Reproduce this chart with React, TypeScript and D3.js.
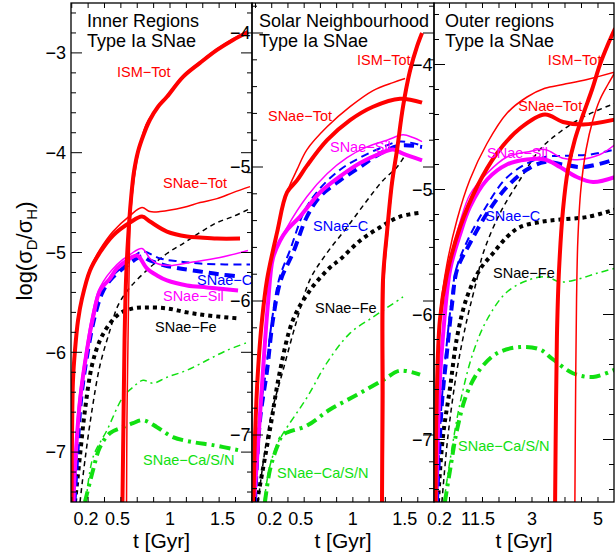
import React, { useRef, useEffect } from 'react';
import * as d3 from 'd3';

type Pt = [number, number];

// ---- Inner regions: [t (Gyr), log(sigmaD/sigmaH)] ----
const innerIsmThick: Pt[] = [[0.547,-7.5],[0.557,-6.68],[0.567,-5.88],[0.581,-5.28],[0.6,-4.87],[0.628,-4.47],[0.657,-4.19],[0.695,-3.99],[0.752,-3.81],[0.809,-3.67],[0.886,-3.54],[0.971,-3.44],[1.124,-3.24],[1.286,-3.1],[1.448,-2.97],[1.6,-2.87],[1.743,-2.79]];
const innerIsmThin: Pt[] = [[0.586,-7.5],[0.59,-6.68],[0.6,-5.88],[0.609,-5.28],[0.628,-4.57],[0.695,-4.02],[0.771,-3.72],[0.828,-3.62],[0.971,-3.43],[1.124,-3.23],[1.286,-3.09],[1.448,-2.96],[1.6,-2.86],[1.743,-2.78]];
const innerTotThick: Pt[] = [[0.062,-7.5],[0.067,-6.81],[0.076,-6.28],[0.095,-5.98],[0.124,-5.68],[0.162,-5.46],[0.238,-5.18],[0.333,-5.0],[0.457,-4.83],[0.619,-4.7],[0.733,-4.64],[0.809,-4.69],[0.971,-4.79],[1.162,-4.84],[1.286,-4.85],[1.448,-4.86],[1.667,-4.86]];
const innerTotThin: Pt[] = [[0.062,-7.5],[0.067,-6.81],[0.076,-6.28],[0.095,-5.98],[0.124,-5.68],[0.162,-5.45],[0.238,-5.16],[0.333,-4.97],[0.457,-4.79],[0.619,-4.63],[0.733,-4.55],[0.809,-4.59],[0.905,-4.59],[1.124,-4.55],[1.286,-4.5],[1.448,-4.46],[1.6,-4.4],[1.762,-4.34]];
const innerSilThick: Pt[] = [[0.081,-7.5],[0.095,-7.15],[0.143,-6.48],[0.209,-5.98],[0.267,-5.65],[0.333,-5.38],[0.428,-5.26],[0.495,-5.16],[0.59,-5.08],[0.686,-5.03],[0.781,-5.16],[0.876,-5.23],[0.971,-5.28],[1.162,-5.33],[1.352,-5.35],[1.648,-5.38]];
const innerSilThin: Pt[] = [[0.076,-7.5],[0.09,-7.15],[0.133,-6.48],[0.2,-5.98],[0.257,-5.63],[0.333,-5.35],[0.495,-5.12],[0.619,-5.02],[0.733,-4.96],[0.809,-5.06],[0.876,-5.11],[1.0,-5.13],[1.19,-5.1],[1.476,-5.05],[1.743,-4.98]];
const innerCThick: Pt[] = [[0.09,-7.5],[0.114,-7.08],[0.152,-6.48],[0.219,-5.98],[0.286,-5.63],[0.352,-5.41],[0.428,-5.28],[0.59,-5.13],[0.733,-5.04],[0.809,-5.08],[0.952,-5.13],[1.095,-5.16],[1.286,-5.19],[1.476,-5.22],[1.667,-5.24]];
const innerCThin: Pt[] = [[0.086,-7.5],[0.109,-7.08],[0.148,-6.48],[0.214,-5.98],[0.276,-5.63],[0.343,-5.4],[0.428,-5.26],[0.59,-5.11],[0.733,-4.99],[0.905,-5.06],[1.095,-5.09],[1.286,-5.11],[1.524,-5.12],[1.762,-5.12]];
const innerFeThick: Pt[] = [[0.095,-7.5],[0.143,-7.03],[0.19,-6.58],[0.257,-6.13],[0.333,-5.88],[0.428,-5.71],[0.524,-5.61],[0.647,-5.56],[0.781,-5.55],[0.971,-5.56],[1.162,-5.6],[1.352,-5.63],[1.648,-5.66]];
const innerFeThin: Pt[] = [[0.143,-7.5],[0.19,-7.08],[0.257,-6.58],[0.333,-6.13],[0.428,-5.78],[0.505,-5.53],[0.619,-5.35],[0.809,-5.15],[0.971,-5.01],[1.124,-4.91],[1.286,-4.8],[1.448,-4.7],[1.6,-4.64],[1.743,-4.57]];
const innerCaThick: Pt[] = [[0.19,-7.5],[0.267,-7.18],[0.333,-6.95],[0.428,-6.81],[0.552,-6.75],[0.647,-6.71],[0.743,-6.68],[0.876,-6.75],[1.028,-6.85],[1.219,-6.9],[1.409,-6.93],[1.648,-6.98]];
const innerCaThin: Pt[] = [[0.2,-7.5],[0.267,-7.05],[0.4,-6.78],[0.552,-6.45],[0.647,-6.35],[0.743,-6.28],[0.838,-6.31],[0.971,-6.25],[1.162,-6.18],[1.352,-6.08],[1.543,-5.98],[1.743,-5.9]];

// ---- Solar neighbourhood ----
const solarIsmThick: Pt[] = [[1.28,-7.5],[1.285,-6.74],[1.29,-5.84],[1.328,-5.49],[1.376,-5.12],[1.425,-4.87],[1.482,-4.55],[1.55,-4.28],[1.617,-4.1],[1.665,-4.0]];
const solarIsmThin: Pt[] = [[1.29,-7.5],[1.295,-6.74],[1.3,-5.84],[1.335,-5.49],[1.38,-5.13],[1.428,-4.88],[1.485,-4.56],[1.552,-4.29],[1.618,-4.11],[1.665,-4.01]];
const solarTotThick: Pt[] = [[0.045,-7.5],[0.059,-7.02],[0.088,-6.52],[0.127,-6.14],[0.175,-5.84],[0.271,-5.49],[0.367,-5.19],[0.463,-5.1],[0.559,-4.99],[0.752,-4.8],[0.973,-4.65],[1.194,-4.55],[1.453,-4.49],[1.665,-4.52]];
const solarTotThin: Pt[] = [[0.045,-7.5],[0.059,-7.02],[0.088,-6.52],[0.127,-6.14],[0.175,-5.84],[0.271,-5.49],[0.367,-5.19],[0.463,-5.02],[0.559,-4.87],[0.752,-4.7],[0.973,-4.55],[1.194,-4.43],[1.386,-4.37],[1.502,-4.34]];
const solarSilThick: Pt[] = [[0.05,-7.5],[0.078,-7.19],[0.136,-6.52],[0.184,-6.02],[0.232,-5.68],[0.3,-5.55],[0.367,-5.47],[0.492,-5.37],[0.684,-5.19],[0.877,-5.07],[1.069,-4.97],[1.261,-4.9],[1.386,-4.87],[1.482,-4.9],[1.665,-4.95]];
const solarSilThin: Pt[] = [[0.05,-7.5],[0.078,-7.19],[0.136,-6.52],[0.184,-5.99],[0.232,-5.66],[0.367,-5.45],[0.559,-5.22],[0.752,-5.05],[0.944,-4.93],[1.136,-4.85],[1.328,-4.8],[1.482,-4.76],[1.578,-4.78],[1.665,-4.81]];
const solarCThick: Pt[] = [[0.059,-7.5],[0.107,-6.89],[0.175,-6.52],[0.232,-6.14],[0.309,-5.84],[0.425,-5.64],[0.559,-5.37],[0.684,-5.22],[0.877,-5.1],[1.069,-5.0],[1.261,-4.9],[1.453,-4.84],[1.665,-4.85]];
const solarCThin: Pt[] = [[0.059,-7.5],[0.098,-6.89],[0.165,-6.52],[0.223,-6.14],[0.29,-5.84],[0.396,-5.62],[0.54,-5.32],[0.684,-5.16],[0.877,-5.02],[1.069,-4.93],[1.261,-4.86],[1.453,-4.81],[1.665,-4.84]];
const solarFeThick: Pt[] = [[0.078,-7.5],[0.203,-6.96],[0.3,-6.52],[0.425,-6.14],[0.588,-5.92],[0.78,-5.75],[0.877,-5.69],[1.069,-5.55],[1.261,-5.45],[1.453,-5.37],[1.665,-5.34]];
const solarFeThin: Pt[] = [[0.088,-7.5],[0.203,-6.89],[0.328,-6.52],[0.463,-6.14],[0.588,-5.84],[0.752,-5.64],[0.944,-5.45],[1.136,-5.25],[1.29,-5.1],[1.425,-5.0],[1.502,-4.91]];
const solarCaThick: Pt[] = [[0.155,-7.5],[0.203,-7.26],[0.271,-7.09],[0.328,-7.0],[0.559,-6.93],[0.78,-6.81],[1.04,-6.7],[1.29,-6.59],[1.453,-6.52],[1.646,-6.55]];
const solarCaThin: Pt[] = [[0.146,-7.5],[0.194,-7.26],[0.261,-7.09],[0.328,-6.99],[0.559,-6.72],[0.752,-6.46],[0.973,-6.24],[1.194,-6.12],[1.328,-6.05],[1.482,-5.97]];

// ---- Outer regions ----
const outerIsmThick: Pt[] = [[3.7,-7.5],[3.73,-6.68],[3.76,-6.12],[3.82,-5.64],[3.94,-5.16],[4.09,-4.84],[4.3,-4.6],[4.55,-4.4],[4.82,-4.2],[5.06,-4.0],[5.3,-3.84],[5.52,-3.71]];
const outerIsmThin: Pt[] = [[4.3,-7.5],[4.32,-6.68],[4.35,-5.88],[4.39,-5.4],[4.48,-5.0],[4.64,-4.68],[4.85,-4.44],[5.06,-4.28],[5.3,-4.16],[5.52,-4.06]];
const outerTotThick: Pt[] = [[0.08,-7.5],[0.11,-6.71],[0.21,-6.04],[0.42,-5.68],[0.82,-5.3],[1.33,-4.98],[1.94,-4.71],[2.64,-4.51],[3.39,-4.4],[3.94,-4.46],[4.55,-4.48],[5.52,-4.44]];
const outerTotThin: Pt[] = [[0.08,-7.5],[0.11,-6.68],[0.21,-6.0],[0.42,-5.6],[0.73,-5.24],[1.12,-4.92],[1.64,-4.63],[2.24,-4.39],[2.85,-4.26],[3.39,-4.19],[3.94,-4.16],[4.67,-4.12],[5.52,-4.06]];
const outerSilThick: Pt[] = [[0.09,-7.5],[0.21,-6.52],[0.3,-6.18],[0.52,-5.64],[0.82,-5.36],[1.12,-5.14],[1.64,-4.92],[2.24,-4.8],[2.85,-4.76],[3.39,-4.76],[3.85,-4.82],[4.36,-4.9],[4.85,-4.94],[5.52,-4.9]];
const outerSilThin: Pt[] = [[0.09,-7.5],[0.21,-6.48],[0.3,-6.12],[0.52,-5.58],[0.82,-5.26],[1.12,-5.04],[1.64,-4.87],[2.24,-4.74],[2.85,-4.7],[3.39,-4.68],[3.94,-4.75],[4.45,-4.76],[5.06,-4.72],[5.52,-4.64]];
const outerCThick: Pt[] = [[0.12,-7.5],[0.27,-6.71],[0.42,-6.31],[0.58,-5.91],[0.73,-5.64],[1.12,-5.43],[1.64,-5.19],[2.24,-4.98],[2.85,-4.84],[3.39,-4.78],[3.94,-4.8],[4.55,-4.82],[5.52,-4.76]];
const outerCThin: Pt[] = [[0.12,-7.5],[0.26,-6.71],[0.39,-6.31],[0.55,-5.91],[0.7,-5.64],[1.06,-5.4],[1.58,-5.15],[2.18,-4.92],[2.79,-4.8],[3.39,-4.74],[4.0,-4.73],[4.76,-4.72],[5.52,-4.68]];
const outerFeThick: Pt[] = [[0.15,-7.5],[0.3,-6.98],[0.52,-6.58],[0.73,-6.18],[1.03,-5.86],[1.42,-5.64],[1.82,-5.51],[2.24,-5.38],[2.64,-5.3],[3.24,-5.26],[3.85,-5.24],[4.67,-5.22],[5.52,-5.16]];
const outerFeThin: Pt[] = [[0.27,-7.5],[0.45,-6.98],[0.73,-6.44],[1.03,-6.04],[1.33,-5.72],[1.52,-5.51],[2.03,-5.19],[2.64,-4.92],[3.24,-4.68],[3.85,-4.54],[4.55,-4.42],[5.52,-4.31]];
const outerCaThick: Pt[] = [[0.36,-7.5],[0.52,-7.24],[0.73,-6.92],[1.03,-6.63],[1.42,-6.44],[1.94,-6.31],[2.64,-6.26],[3.24,-6.28],[3.64,-6.36],[4.24,-6.47],[4.85,-6.5],[5.52,-6.44]];
const outerCaThin: Pt[] = [[0.33,-7.5],[0.52,-7.16],[0.82,-6.71],[1.21,-6.31],[1.64,-6.04],[2.24,-5.82],[2.94,-5.72],[3.45,-5.7],[3.85,-5.74],[4.36,-5.72],[4.97,-5.67],[5.52,-5.63]];

// curve labels: [text, t, v, kind]
const innerLabels: [string, number, number, string][] = [
  ['ISM\u2212Tot', 0.495, -3.24, 'tot'], ['SNae\u2212Tot', 0.933, -4.35, 'tot'], ['SNae\u2212C', 1.257, -5.33, 'c'],
  ['SNae\u2212Sil', 0.933, -5.49, 'sil'], ['SNae\u2212Fe', 0.857, -5.8, 'fe'], ['SNae\u2212Ca/S/N', 0.743, -7.13, 'ca']];
const solarLabels: [string, number, number, string][] = [
  ['ISM\u2212Tot', 1.04, -4.24, 'tot'], ['SNae\u2212Tot', 0.184, -4.66, 'tot'], ['SNae\u2212Sil', 0.78, -4.89, 'sil'],
  ['SNae\u2212C', 0.617, -5.48, 'c'], ['SNae\u2212Fe', 0.636, -6.09, 'fe'], ['SNae\u2212Ca/S/N', 0.271, -7.32, 'ca']];
const outerLabels: [string, number, number, string][] = [
  ['ISM\u2212Tot', 3.48, -4.0, 'tot'], ['SNae\u2212Tot', 2.58, -4.37, 'tot'], ['SNae\u2212Sil', 1.64, -4.75, 'sil'],
  ['SNae\u2212C', 1.58, -5.25, 'c'], ['SNae\u2212Fe', 1.82, -5.71, 'fe'], ['SNae\u2212Ca/S/N', 0.76, -7.09, 'ca']];

const innerYTicks = [-7, -6, -5, -4, -3];
const solarYTicks = [-7, -6, -5, -4];
const outerYTicks = [-7, -6, -5, -4];
const innerXTicks = [0.2, 0.5, 1, 1.5];
const outerXTicks = [0.2, 1, 1.5, 3, 5];

const RED = '#ff0000', MAGENTA = '#ff00ff', BLUE = '#0000ff', BLACK = '#000000', GREEN = '#11e011';
const kindColor: Record<string, string> = { tot: RED, sil: MAGENTA, c: BLUE, fe: BLACK, ca: GREEN };

const styles: Record<string, { color: string, width: number, dash?: string }> = {
  caThick: { color: GREEN, width: 4, dash: '11,5,3,5' },
  caThin: { color: GREEN, width: 1.5, dash: '7,4,2,4' },
  feThick: { color: BLACK, width: 4, dash: '4,4' },
  feThin: { color: BLACK, width: 1.5, dash: '5,4' },
  cThick: { color: BLUE, width: 4, dash: '10,6' },
  cThin: { color: BLUE, width: 2, dash: '8,5' },
  silThick: { color: MAGENTA, width: 4 },
  silThin: { color: MAGENTA, width: 1.5 },
  totThick: { color: RED, width: 4 },
  totThin: { color: RED, width: 1.5 },
  ismThick: { color: RED, width: 4 },
  ismThin: { color: RED, width: 1.5 },
};

const FONT = "'Liberation Sans', Arial, Helvetica, sans-serif";
const W = 615, H = 558, TOP = 3, BOTTOM = 502;

export default function App() {
  const svg_ref = useRef<SVGSVGElement>(null);
  useEffect(() => draw(svg_ref.current), []);
  return (
    <svg ref={svg_ref} width={W} height={H} style={{ position: 'absolute', left: 0, top: 0, background: '#fff' }} />
  );
}

function draw(el: SVGSVGElement | null) {
  if (!el) return;
  const svg = d3.select(el);
  svg.selectAll('*').remove();
  svg.attr('font-family', FONT);

  const panels = [
    {
      id: 'inner', title: ['Inner Regions', 'Type Ia SNae'], titleX: 16, px: [71, 252], t: [0.057, 1.781], vTop: -2.5,
      yTicks: innerYTicks, xTicks: innerXTicks, xMinor: d3.range(-6, 6).map(k => 1 + k * 0.156), gap: 5,
      labels: innerLabels,
      series: { caThin: innerCaThin, caThick: innerCaThick, feThin: innerFeThin, feThick: innerFeThick, cThin: innerCThin, cThick: innerCThick,
        silThin: innerSilThin, silThick: innerSilThick, totThin: innerTotThin, totThick: innerTotThick, ismThin: innerIsmThin, ismThick: innerIsmThick },
    },
    {
      id: 'solar', title: ['Solar Neighbourhood', 'Type Ia SNae'], titleX: 7, px: [252, 434], t: [0.0304, 1.78], vTop: -3.776,
      yTicks: solarYTicks, xTicks: innerXTicks, xMinor: d3.range(-6, 6).map(k => 1 + k * 0.156), gap: 1.5,
      labels: solarLabels,
      series: { caThin: solarCaThin, caThick: solarCaThick, feThin: solarFeThin, feThick: solarFeThick, cThin: solarCThin, cThick: solarCThick,
        silThin: solarSilThin, silThick: solarSilThick, totThin: solarTotThin, totThick: solarTotThick, ismThin: solarIsmThin, ismThick: solarIsmThick },
    },
    {
      id: 'outer', title: ['Outer regions', 'Type Ia SNae'], titleX: 11, px: [434, 614], t: [0.0303, 5.485], vTop: -3.508,
      yTicks: outerYTicks, xTicks: outerXTicks, xMinor: d3.range(0.5, 5.5, 0.5), gap: 1.5,
      labels: outerLabels,
      series: { caThin: outerCaThin, caThick: outerCaThick, feThin: outerFeThin, feThick: outerFeThick, cThin: outerCThin, cThick: outerCThick,
        silThin: outerSilThin, silThick: outerSilThick, totThin: outerTotThin, totThick: outerTotThick, ismThin: outerIsmThin, ismThick: outerIsmThick },
    },
  ];

  const tickLabelLayer: any[] = [];

  panels.forEach(p => {
    const x = d3.scaleLinear().domain(p.t).range(p.px);
    const y = d3.scaleLinear().domain([-7.5, p.vTop]).range([BOTTOM, TOP]);
    const g = svg.append('g');

    g.append('clipPath').attr('id', 'clip-' + p.id)
      .append('rect').attr('x', p.px[0]).attr('y', TOP).attr('width', p.px[1] - p.px[0]).attr('height', BOTTOM - TOP);

    const line = d3.line<Pt>().x(d => x(d[0])).y(d => y(d[1])).curve(d3.curveCatmullRom.alpha(0.5));

    const plot = g.append('g').attr('clip-path', `url(#clip-${p.id})`);
    Object.entries(p.series).forEach(([key, data]) => {
      const s = styles[key];
      plot.append('path')
        .attr('d', line(data as Pt[]))
        .attr('fill', 'none')
        .attr('stroke', s.color)
        .attr('stroke-width', s.width)
        .attr('stroke-dasharray', s.dash || null)
        .attr('stroke-linejoin', 'round');
    });

    // curve labels
    g.selectAll('text.lab').data(p.labels).join('text')
      .attr('class', 'lab')
      .attr('x', d => x(d[1])).attr('y', d => y(d[2]))
      .attr('fill', d => kindColor[d[3]])
      .attr('font-size', 14.5)
      .text(d => d[0]);

    // titles
    p.title.forEach((tt, i) => {
      g.append('text').attr('x', p.px[0] + p.titleX).attr('y', 27 + i * 20)
        .attr('font-size', 18).attr('fill', '#000').text(tt);
    });

    // frame
    g.append('rect').attr('x', p.px[0]).attr('y', TOP).attr('width', p.px[1] - p.px[0]).attr('height', BOTTOM - TOP)
      .attr('fill', 'none').attr('stroke', '#000').attr('stroke-width', 1.3);

    // ticks on all four sides
    const yMinor = d3.range(-7.4, p.vTop, 0.2).filter(v => Math.abs(v - Math.round(v)) > 0.05);
    const ticks = g.append('g').attr('stroke', '#000').attr('stroke-width', 1);
    p.yTicks.forEach(v => {
      ticks.append('line').attr('x1', p.px[0]).attr('x2', p.px[0] + 11).attr('y1', y(v)).attr('y2', y(v));
      ticks.append('line').attr('x1', p.px[1]).attr('x2', p.px[1] - 11).attr('y1', y(v)).attr('y2', y(v));
    });
    yMinor.forEach(v => {
      ticks.append('line').attr('x1', p.px[0]).attr('x2', p.px[0] + 5).attr('y1', y(v)).attr('y2', y(v));
      ticks.append('line').attr('x1', p.px[1]).attr('x2', p.px[1] - 5).attr('y1', y(v)).attr('y2', y(v));
    });
    p.xMinor.filter(t => t > p.t[0] && t < p.t[1]).forEach(t => {
      ticks.append('line').attr('x1', x(t)).attr('x2', x(t)).attr('y1', BOTTOM).attr('y2', BOTTOM - 5);
      ticks.append('line').attr('x1', x(t)).attr('x2', x(t)).attr('y1', TOP).attr('y2', TOP + 5);
    });

    tickLabelLayer.push({ p, x, y });
  });

  // tick labels drawn last, over neighbouring panels
  const tl = svg.append('g').attr('font-size', 18).attr('fill', '#000');
  tickLabelLayer.forEach(({ p, x, y }) => {
    tl.selectAll(null).data(p.yTicks).join('text')
      .attr('x', p.px[0] - p.gap).attr('y', (d: number) => y(d))
      .attr('dy', '0.35em').attr('text-anchor', 'end')
      .text((d: number) => '\u2212' + Math.abs(d));
    tl.selectAll(null).data(p.xTicks).join('text')
      .attr('x', (d: number) => x(d)).attr('y', 525).attr('text-anchor', 'middle')
      .text((d: number) => String(d));
    tl.append('text').attr('x', (p.px[0] + p.px[1]) / 2).attr('y', 548)
      .attr('text-anchor', 'middle').attr('font-size', 21).text('t [Gyr]');
  });

  // y axis title
  const yt = svg.append('text')
    .attr('transform', 'translate(32,251) rotate(-90)')
    .attr('text-anchor', 'middle').attr('font-size', 22).attr('fill', '#000');
  yt.append('tspan').text('log(\u03c3');
  yt.append('tspan').attr('font-size', 15).attr('dy', 5).text('D');
  yt.append('tspan').attr('dy', -5).text('/\u03c3');
  yt.append('tspan').attr('font-size', 15).attr('dy', 5).text('H');
  yt.append('tspan').attr('dy', -5).text(')');
}
